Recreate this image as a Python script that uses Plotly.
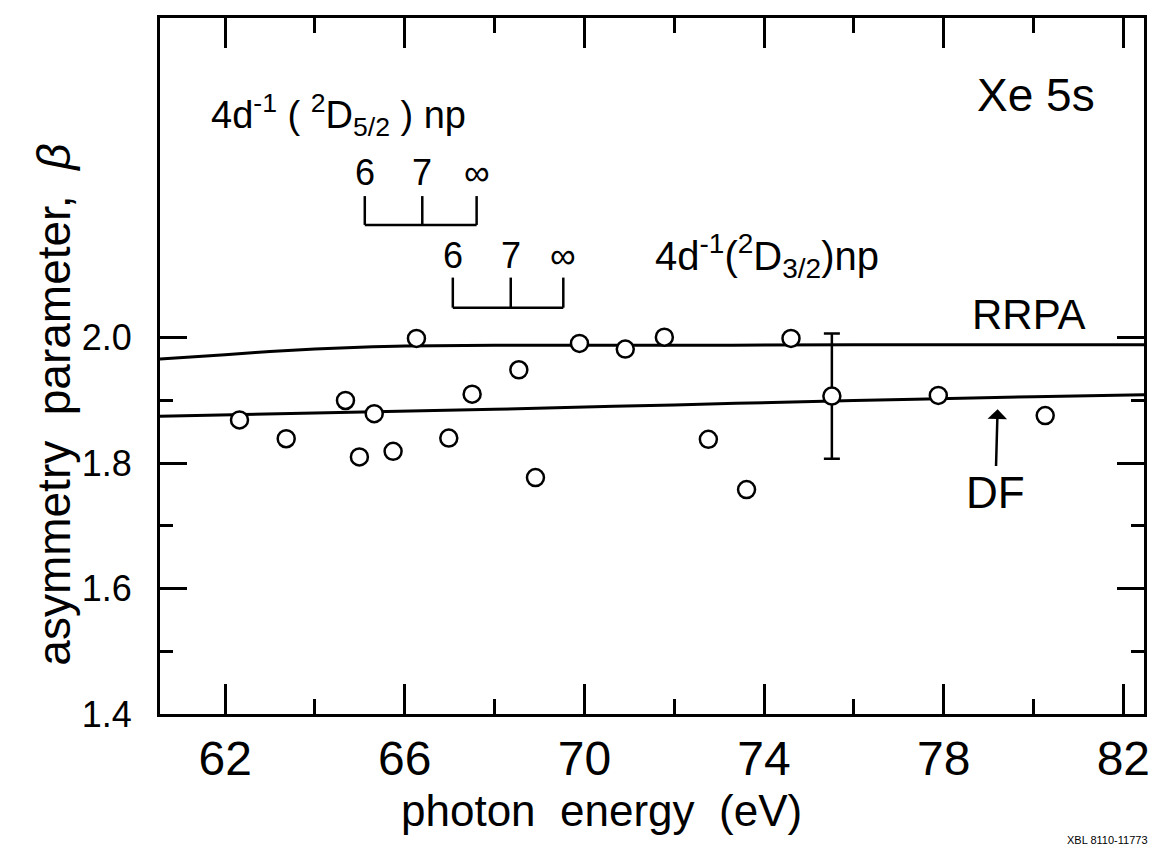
import plotly.graph_objects as go

# measured asymmetry parameter, Xe 5s
energy = [62.32, 63.36, 64.68, 64.99, 65.32, 65.74, 66.26, 66.98, 67.50, 68.54,
          68.91, 69.89, 70.91, 71.78, 72.76, 73.61, 74.60, 77.88, 80.26]
beta = [1.869, 1.839, 1.900, 1.810, 1.879, 1.819, 1.999, 1.840, 1.910, 1.949,
        1.777, 1.991, 1.982, 2.001, 1.838, 1.758, 1.999, 1.908, 1.876]

# the one point drawn with its error bar
err_energy = [75.51]
err_beta = [1.907]
err_size = [0.10]

# theory curves
rrpa_energy = [60.55, 62, 63, 64, 65, 66, 68, 72, 76, 82.46]
rrpa_beta = [1.966, 1.973, 1.978, 1.982, 1.985, 1.987, 1.988, 1.988, 1.989, 1.989]
df_energy = [60.55, 64, 68, 72, 76, 80, 82.46]
df_beta = [1.875, 1.880, 1.886, 1.893, 1.900, 1.906, 1.909]

# 4d^-1 np resonance positions
levels_52 = [65.11, 66.39, 67.60]
levels_32 = [67.07, 68.36, 69.53]
level_names = ["6", "7", "\u221e"]

FONT = "Liberation Sans"
INK = "black"

fig = go.Figure()

fig.add_trace(go.Scatter(x=rrpa_energy, y=rrpa_beta, mode="lines",
                         line=dict(color=INK, width=3, shape="spline")))
fig.add_trace(go.Scatter(x=df_energy, y=df_beta, mode="lines",
                         line=dict(color=INK, width=3, shape="spline")))


def bracket(levels, y_low, y_high):
    xs = [levels[0], levels[-1], None]
    ys = [y_low, y_low, None]
    for lv in levels:
        xs += [lv, lv, None]
        ys += [y_low, y_high, None]
    return xs, ys


for lv, (lo, hi) in [(levels_52, (2.180, 2.226)), (levels_32, (2.048, 2.096))]:
    bx, by = bracket(lv, lo, hi)
    fig.add_trace(go.Scatter(x=bx, y=by, mode="lines",
                             line=dict(color=INK, width=2.5)))

fig.add_trace(go.Scatter(
    x=err_energy, y=err_beta, mode="markers",
    error_y=dict(type="data", array=err_size, visible=True,
                 color=INK, thickness=2.5, width=8),
    marker=dict(size=17, color="white", line=dict(color=INK, width=2.5)),
))
fig.add_trace(go.Scatter(
    x=energy, y=beta, mode="markers",
    marker=dict(size=17, color="white", line=dict(color=INK, width=2.5)),
))

annotations = []
for lv, name in zip(levels_52, level_names):
    annotations.append(dict(x=lv, y=2.263, text=name, showarrow=False,
                            font=dict(size=36)))
for lv, name in zip(levels_32, level_names):
    annotations.append(dict(x=lv, y=2.131, text=name, showarrow=False,
                            font=dict(size=36)))

annotations += [
    dict(x=61.63, y=2.355, xanchor="left", yanchor="middle",
         text="4d<sup>-1</sup> ( <sup>2</sup>D<sub>5/2</sub> ) np",
         showarrow=False, font=dict(size=38)),
    dict(x=71.52, y=2.131, xanchor="left", yanchor="middle",
         text="4d<sup>-1</sup>(<sup>2</sup>D<sub>3/2</sub>)np",
         showarrow=False, font=dict(size=40)),
    dict(x=80.05, y=2.388, text="Xe 5s", showarrow=False, font=dict(size=46)),
    dict(x=79.9, y=2.037, text="RRPA", showarrow=False, font=dict(size=42)),
    dict(x=79.2, y=1.886, ax=79.15, ay=1.754, axref="x", ayref="y",
         text="DF", showarrow=True, arrowhead=1, arrowsize=1.3,
         arrowwidth=2.5, arrowcolor=INK, font=dict(size=44)),
    dict(x=-0.108, y=0.444, xref="paper", yref="paper", textangle=-90,
         xanchor="center", yanchor="middle",
         text="asymmetry\u00a0\u00a0parameter,\u00a0\u00a0<i>\u03b2</i>",
         showarrow=False, font=dict(size=46)),
    dict(x=0.449, y=-0.138, xref="paper", yref="paper",
         xanchor="center", yanchor="middle",
         text="photon\u00a0\u00a0energy\u00a0\u00a0(eV)",
         showarrow=False, font=dict(size=44)),
    dict(x=1.006, y=-0.181, xref="paper", yref="paper",
         xanchor="right", yanchor="middle",
         text="XBL 8110-11773", showarrow=False, font=dict(size=11)),
]

# the page body keeps an 8px border, so the figure is sized to fit inside it
fig.update_layout(
    width=1148, height=838,
    margin=dict(l=152, r=6, t=10, b=132),
    paper_bgcolor="white", plot_bgcolor="white",
    showlegend=False,
    font=dict(family=FONT, color=INK),
    annotations=annotations,
)

fig.update_xaxes(
    range=[60.55, 82.46],
    tickvals=[62, 66, 70, 74, 78, 82],
    ticks="inside", ticklen=30, tickwidth=2.5, tickcolor=INK,
    minor=dict(tickvals=[64, 68, 72, 76, 80], ticks="inside", ticklen=15,
               tickwidth=2.5, tickcolor=INK),
    showline=True, linewidth=3, linecolor=INK, mirror="allticks",
    showgrid=False, zeroline=False,
    tickfont=dict(size=48), ticklabelstandoff=0,
)
fig.update_yaxes(
    range=[1.4, 2.51],
    tickvals=[1.4, 1.6, 1.8, 2.0],
    ticktext=["1.4", "1.6", "1.8", "2.0"],
    ticks="inside", ticklen=27, tickwidth=2.5, tickcolor=INK,
    minor=dict(tickvals=[1.5, 1.7, 1.9], ticks="inside", ticklen=13,
               tickwidth=2.5, tickcolor=INK),
    showline=True, linewidth=3, linecolor=INK, mirror="allticks",
    showgrid=False, zeroline=False,
    tickfont=dict(size=36), ticklabelstandoff=18,
)

fig.write_html("out.html")
